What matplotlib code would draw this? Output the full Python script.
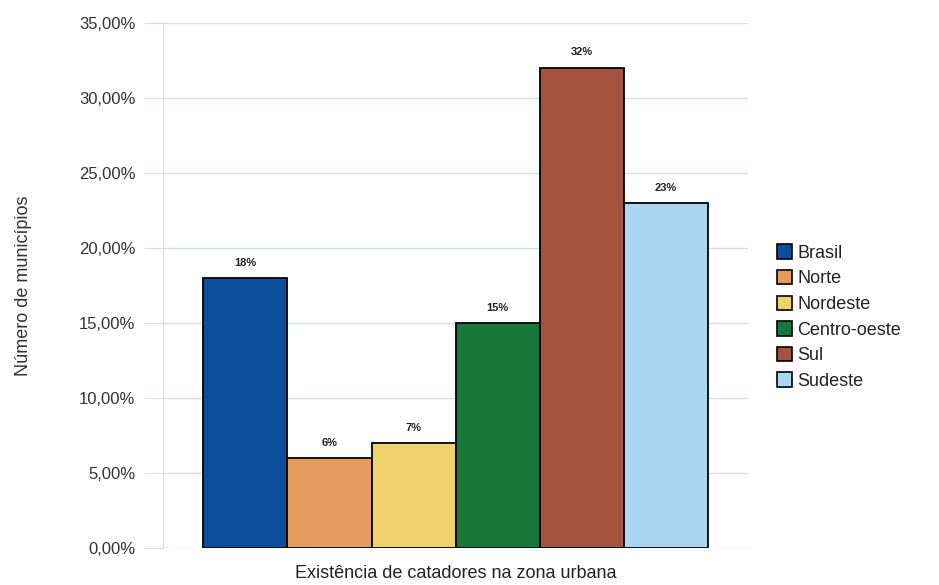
import matplotlib
matplotlib.use("Agg")
import matplotlib.pyplot as plt
from matplotlib.patches import Patch
import matplotlib.ticker as ticker

regions = ["Brasil", "Norte", "Nordeste", "Centro-oeste", "Sul", "Sudeste"]
values = [18, 6, 7, 15, 32, 23]
labels = ["18%", "6%", "7%", "15%", "32%", "23%"]
colors = ["#0b4f9c", "#e59a5e", "#efd26a", "#16793a", "#a5533f", "#a9d7f2"]
yticks = [0, 5, 10, 15, 20, 25, 30, 35]

plt.rcParams["font.family"] = ["Liberation Sans", "DejaVu Sans"]

fig = plt.figure(figsize=(9.39, 5.85), dpi=100)
ax = fig.add_axes([0.1736, 0.0632, 0.623, 0.8975])

w = 0.1436
for i, (v, c, lab) in enumerate(zip(values, colors, labels)):
  x = (i - 2.5) * w
  ax.bar(x, v, width=w, color=c, edgecolor="black", linewidth=1.3, zorder=3)
  ax.text(x, v + 0.7, lab, ha="center", va="bottom", fontsize=8,
          fontweight="bold", color="#222222")

ax.set_xlim(-0.5, 0.5)
ax.set_ylim(0, 35)
ax.set_yticks(yticks)
ax.yaxis.set_major_formatter(ticker.FuncFormatter(lambda v, pos: "{:.2f}%".format(v).replace(".", ",")))
ax.set_xticks([])
ax.grid(axis="y", color="#d5dfe0", linewidth=1, zorder=0)
ax.tick_params(axis="y", length=14, color="#d5dfe0", labelsize=12, labelcolor="#333333", pad=6)
for s in ["top", "right", "bottom"]:
  ax.spines[s].set_visible(False)
ax.spines["left"].set_color("#d5dfe0")

ax.set_ylabel("Número de municípios", fontsize=13, color="#333333", labelpad=34)
ax.set_xlabel("Existência de catadores na zona urbana", fontsize=13, color="#222222", labelpad=12)

handles = [Patch(facecolor=c, edgecolor="black", linewidth=1.2) for c in colors]
fig.legend(handles, regions, loc="upper left", bbox_to_anchor=(0.81, 0.61), frameon=False,
           fontsize=13, handlelength=0.85, handleheight=0.85, handletextpad=0.3,
           labelspacing=0.45, labelcolor="#222222")

fig.savefig("out.png", dpi=100)
